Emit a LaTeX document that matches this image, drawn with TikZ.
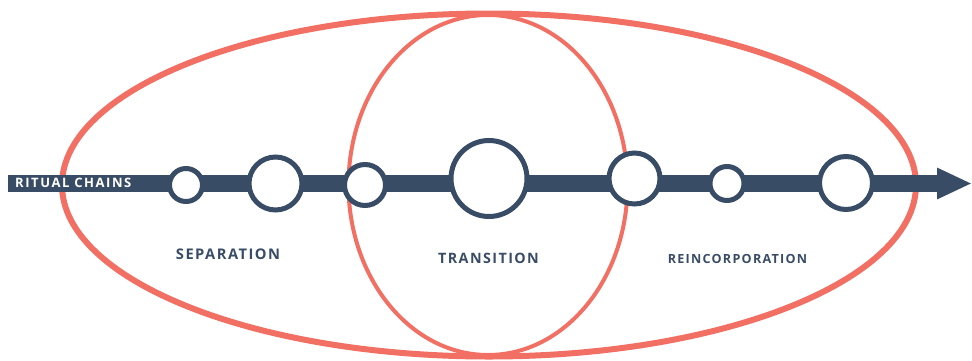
\documentclass[tikz,border=0pt]{standalone}
\usepackage{fontspec}
\setmainfont{Open Sans}
\usetikzlibrary{arrows.meta}
\definecolor{chainblue}{HTML}{394C66}
\definecolor{phasered}{HTML}{F26F64}

\begin{document}
\begin{tikzpicture}[x=1pt,y=-1pt,
    link/.style={circle,draw=chainblue,line width=5pt,fill=white,inner sep=0pt},
    phase/.style={text=chainblue,inner sep=0pt,
      font=\fontsize{#1}{14}\selectfont\bfseries\addfontfeatures{LetterSpace=10}}]
  \useasboundingbox (0,0) rectangle (972,360);
  % Parameters for the two ellipses
  \def\outerrx{427} % half width of the whole ritual
  \def\outerry{171.5} % half height of the whole ritual
  \def\innerrx{139.5} % half width of the liminal phase
  \def\innerry{170} % half height of the liminal phase
  \coordinate (R) at (489,185); % whole ritual
  \coordinate (L) at (488,185); % liminal phase

  % Draw the ellipses
  \draw[phasered,line width=6pt] (R) ellipse [x radius=\outerrx, y radius=\outerry];
  \draw[phasered,line width=4pt] (L) ellipse [x radius=\innerrx, y radius=\innerry];

  % The chain of rites as one thick arrow
  \coordinate (chainstart) at (8,183.5);
  \coordinate (chainend) at (972,183.5);
  \draw[chainblue,line width=17pt,-{Triangle[length=35pt,width=29pt]}] (chainstart) -- (chainend);
  \node[anchor=west,inner sep=0pt,text=white,
    font=\fontsize{13}{13}\selectfont\bfseries\addfontfeatures{LetterSpace=12}] (chains) at (15,183) {RITUAL CHAINS};

  % Rites along the chain
  \node[link,minimum size=33pt] (rite1) at (186,185) {};
  \node[link,minimum size=53pt] (rite2) at (275.5,183.5) {};
  \node[link,minimum size=41pt] (rite3) at (365,185) {};
  \node[link,minimum size=76pt] (rite4) at (489,178.5) {};
  \node[link,minimum size=51pt] (rite5) at (634.5,178.5) {};
  \node[link,minimum size=34pt] (rite6) at (727,183.5) {};
  \node[link,minimum size=53pt] (rite7) at (846,183) {};

  % Names of the three phases
  \node[phase=14.7] (separation) at (228,254) {SEPARATION};
  \node[phase=14.3] (transition) at (488.5,258.3) {TRANSITION};
  \node[phase=12.6] (reincorporation) at (737.5,259.2) {REINCORPORATION};
\end{tikzpicture}
\end{document}
